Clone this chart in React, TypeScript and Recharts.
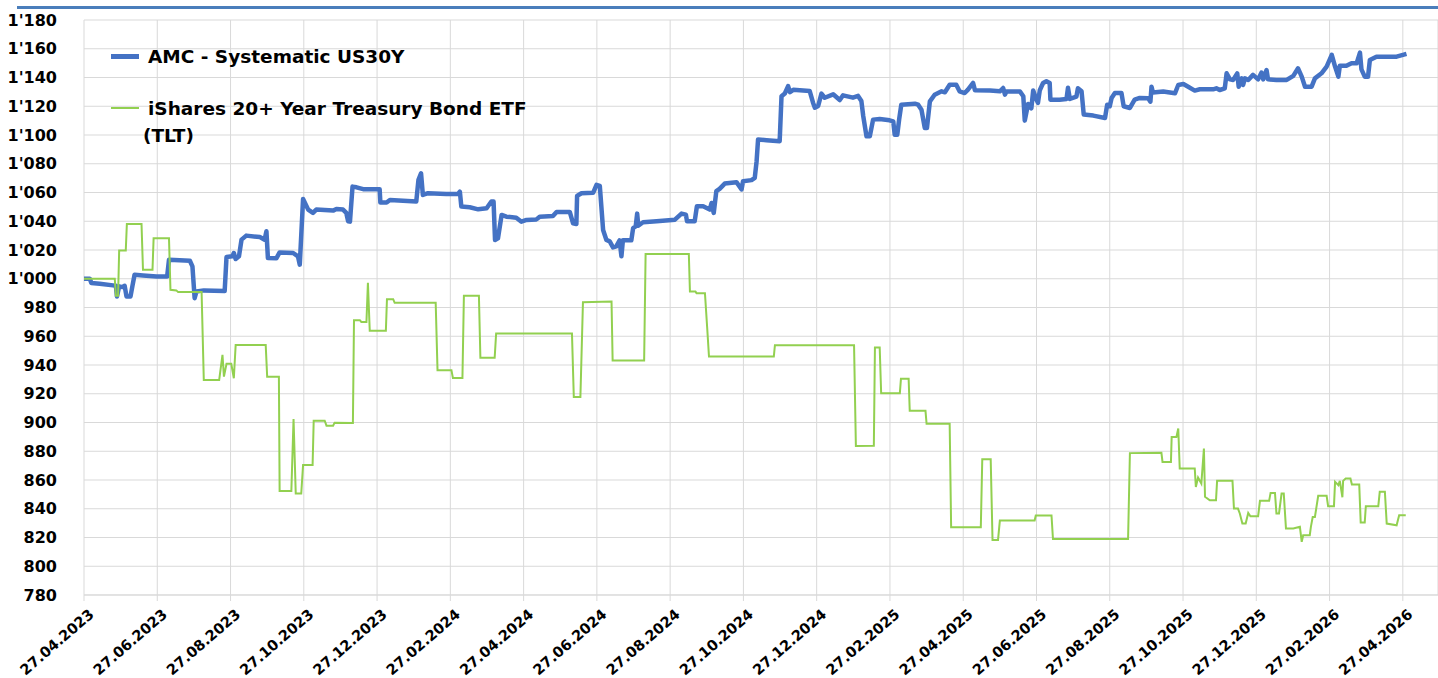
import { LineChart, Line, XAxis, YAxis, CartesianGrid } from 'recharts'

// x = months since 27.04.2023, one tick every 2 months
const X_LABELS = [
  '27.04.2023', '27.06.2023', '27.08.2023', '27.10.2023', '27.12.2023', '27.02.2024',
  '27.04.2024', '27.06.2024', '27.08.2024', '27.10.2024', '27.12.2024', '27.02.2025',
  '27.04.2025', '27.06.2025', '27.08.2025', '27.10.2025', '27.12.2025', '27.02.2026',
  '27.04.2026',
]
const X_TICKS = X_LABELS.map((_, i) => i * 2)
const Y_TICKS = [780, 800, 820, 840, 860, 880, 900, 920, 940, 960, 980, 1000, 1020, 1040, 1060, 1080, 1100, 1120, 1140, 1160, 1180]

const AMC_NAME = 'AMC - Systematic US30Y'
const TLT_NAME = 'iShares 20+ Year Treasury Bond ETF (TLT)'
const AMC_COLOR = '#4472C4'
const TLT_COLOR = '#92D050'

const AMC_T = [
  0, 0.16, 0.2, 0.43, 0.79, 0.87, 0.9, 0.96, 1.05, 1.11, 1.16, 1.27, 1.32, 1.38, 1.61, 1.98, 2.27, 2.32, 2.61, 2.89,
  2.96, 3.02, 3.07, 3.27, 3.84, 3.89, 4.05, 4.09, 4.14, 4.23, 4.3, 4.43, 4.8, 4.93, 4.98, 5.02, 5.25, 5.34, 5.71, 5.84,
  5.89, 5.98, 6.12, 6.25, 6.34, 6.8, 6.89, 7.07, 7.16, 7.21, 7.26, 7.33, 7.44, 7.62, 8.07, 8.09, 8.26, 8.35, 9.07, 9.13,
  9.2, 9.25, 9.39, 9.89, 10.21, 10.26, 10.3, 10.53, 10.76, 10.99, 11.12, 11.18, 11.22, 11.3, 11.4, 11.53, 11.8, 11.94, 12.08, 12.35,
  12.44, 12.8, 12.9, 13.26, 13.35, 13.44, 13.46, 13.58, 13.9, 13.99, 14.08, 14.17, 14.26, 14.35, 14.44, 14.53, 14.62, 14.67, 14.71, 14.94,
  14.99, 15.06, 15.1, 15.13, 15.26, 15.63, 16.13, 16.31, 16.43, 16.46, 16.67, 16.73, 16.9, 17.08, 17.13, 17.19, 17.26, 17.35, 17.49, 17.81,
  17.95, 17.99, 18.22, 18.31, 18.36, 18.4, 18.63, 18.99, 19.04, 19.13, 19.22, 19.27, 19.36, 19.81, 19.9, 19.95, 20.04, 20.13, 20.22, 20.45,
  20.63, 20.72, 20.99, 21.13, 21.22, 21.27, 21.36, 21.45, 21.54, 21.72, 21.99, 22.09, 22.13, 22.2, 22.25, 22.31, 22.68, 22.77, 22.86, 22.95,
  23.01, 23.09, 23.22, 23.41, 23.5, 23.63, 23.81, 23.9, 24.04, 24.13, 24.27, 24.32, 24.73, 25.0, 25.09, 25.14, 25.18, 25.55, 25.64, 25.68,
  25.77, 25.86, 25.91, 25.98, 26.04, 26.09, 26.18, 26.27, 26.36, 26.38, 26.63, 26.82, 26.86, 26.91, 27.09, 27.13, 27.23, 27.29, 27.55, 27.87,
  27.93, 28.0, 28.05, 28.14, 28.32, 28.38, 28.55, 28.68, 28.82, 29.05, 29.11, 29.14, 29.18, 29.46, 29.78, 29.87, 30.01, 30.14, 30.32, 30.46,
  30.82, 30.91, 31.0, 31.14, 31.19, 31.28, 31.37, 31.48, 31.52, 31.6, 31.64, 31.69, 31.78, 31.91, 32.05, 32.14, 32.19, 32.28, 32.32, 32.55,
  32.83, 33.01, 33.14, 33.24, 33.33, 33.51, 33.6, 33.78, 33.92, 34.06, 34.15, 34.24, 34.28, 34.46, 34.6, 34.74, 34.83, 34.87, 34.96, 35.05,
  35.1, 35.28, 35.83, 36.1,
]
const AMC_V = [
  1000, 1000, 997, 996.5, 995.4, 995.2, 987.7, 994.7, 994.2, 995.1, 987.7, 987.7, 994.7, 1002.8, 1002.3, 1001.6, 1001.6, 1013.2, 1012.8, 1012.5,
  1008.6, 986.5, 991.2, 991.9, 991.4, 1015.1, 1015.6, 1017.9, 1013.7, 1015.6, 1027.2, 1030, 1029, 1027.2, 1033, 1014.4, 1014.2, 1018.3, 1017.9, 1015.6,
  1009.8, 1055.5, 1048.1, 1045.8, 1048.1, 1047.4, 1048.5, 1048.1, 1045.8, 1040, 1039.7, 1064.1, 1063.6, 1062.3, 1062.3, 1053, 1053, 1054.8, 1053.7, 1068.9,
  1073.4, 1058.3, 1059.5, 1059, 1059, 1060.6, 1050.2, 1049.7, 1048.3, 1049, 1053.7, 1053.7, 1027, 1028.1, 1044.4, 1043.2, 1042.5, 1039.7, 1040.9, 1041.3,
  1043.2, 1043.6, 1046.5, 1046.5, 1038.6, 1038.1, 1057.6, 1059.5, 1059.9, 1065.3, 1064.6, 1033.9, 1027, 1026, 1021.8, 1022.5, 1026.7, 1015.6, 1026.7, 1026.7,
  1035.3, 1036.5, 1045.3, 1036.9, 1039.3, 1040, 1041.1, 1045.3, 1044.6, 1040, 1040, 1050.4, 1050.4, 1048.1, 1052.7, 1045.8, 1060.9, 1062.5, 1066.2, 1067.2,
  1062.1, 1067.9, 1068.6, 1070.2, 1081.8, 1096.9, 1096.4, 1095.7, 1127, 1128.9, 1134, 1129.8, 1131.4, 1130.6, 1122.5, 1119, 1120.2, 1128.8, 1125.9, 1128.3,
  1124.3, 1127.6, 1126, 1127.2, 1123.7, 1113.3, 1099.1, 1099.1, 1110.7, 1111.1, 1110.2, 1109.5, 1100.2, 1100.2, 1110.7, 1121.1, 1121.8, 1121.1, 1117.6, 1104.9,
  1104.9, 1123.4, 1128, 1130.4, 1129.7, 1135, 1135, 1130.4, 1129.2, 1131.6, 1136.2, 1131.1, 1130.9, 1130.4, 1132.7, 1128.1, 1130.2, 1130.2, 1127, 1110,
  1121.6, 1118.6, 1130.9, 1125.7, 1122.3, 1131.1, 1136.2, 1137.4, 1136.2, 1124.6, 1124.6, 1125.1, 1132.8, 1125.1, 1126.7, 1132.5, 1130.4, 1114.2, 1113.5, 1111.8,
  1121.1, 1120, 1125.7, 1129.2, 1129.2, 1120, 1118.8, 1124.6, 1125.8, 1125.5, 1123.2, 1133.6, 1129.5, 1130.2, 1129, 1134.8, 1135.5, 1133.6, 1130.9, 1131.8,
  1131.8, 1132.5, 1131.3, 1132.5, 1142.9, 1138.7, 1138.3, 1142.9, 1133.6, 1139.4, 1134.8, 1139.4, 1138.3, 1141.8, 1138.7, 1143.4, 1138.7, 1145.2, 1138.7, 1138.3,
  1138.3, 1141.1, 1146.4, 1140.6, 1133.6, 1133.6, 1139.4, 1142.9, 1147.6, 1155.7, 1147.6, 1140.6, 1148.1, 1148.1, 1149.9, 1149.9, 1157.3, 1145.7, 1140.6, 1140.6,
  1152.2, 1154.5, 1154.5, 1156.4,
]

const TLT_T = [
  0, 0.84, 0.87, 0.93, 0.96, 1.14, 1.17, 1.57, 1.61, 1.87, 1.9, 2.32, 2.36, 2.52, 2.57, 3.21, 3.27, 3.69, 3.78, 3.82,
  3.89, 4.02, 4.09, 4.14, 4.96, 5.0, 5.32, 5.34, 5.66, 5.72, 5.78, 5.93, 5.98, 6.24, 6.27, 6.57, 6.62, 6.8, 6.84, 7.34,
  7.37, 7.53, 7.57, 7.71, 7.75, 7.8, 8.24, 8.27, 8.44, 8.48, 9.6, 9.65, 10.03, 10.07, 10.33, 10.37, 10.78, 10.82, 11.21, 11.25,
  13.32, 13.37, 13.55, 13.62, 14.4, 14.43, 15.29, 15.33, 16.51, 16.54, 16.69, 16.72, 16.95, 17.01, 17.06, 18.83, 18.86, 21.02, 21.07, 21.56,
  21.59, 21.72, 21.76, 22.27, 22.3, 22.51, 22.54, 22.97, 23.0, 23.63, 23.67, 24.48, 24.52, 24.75, 24.8, 24.95, 25.0, 25.95, 25.98, 26.41,
  26.45, 28.5, 28.55, 29.41, 29.44, 29.67, 29.69, 29.82, 29.87, 29.91, 30.32, 30.35, 30.41, 30.5, 30.57, 30.6, 30.73, 30.9, 30.93, 31.35,
  31.39, 31.5, 31.55, 31.62, 31.71, 31.78, 31.84, 32.05, 32.1, 32.35, 32.39, 32.51, 32.55, 32.62, 32.69, 32.75, 32.81, 33.01, 33.19, 33.24,
  33.28, 33.46, 33.49, 33.54, 33.6, 33.69, 33.92, 33.96, 34.12, 34.15, 34.24, 34.28, 34.35, 34.37, 34.44, 34.57, 34.61, 34.81, 34.85, 34.96,
  34.99, 35.33, 35.37, 35.51, 35.56, 35.83, 35.9, 36.08,
]
const TLT_V = [
  1000, 1000, 988.2, 988.2, 1019.7, 1019.7, 1038.1, 1038.1, 1006.3, 1006.3, 1028.1, 1028.1, 992.3, 991.9, 990.7, 990.7, 929.6, 929.6, 947, 931.9,
  940.8, 940.8, 930.8, 954, 954, 931.9, 931.9, 852.3, 852.3, 902.4, 850.6, 850.6, 870.4, 870.4, 901.3, 901.3, 897.8, 897.8, 899.9, 899.7,
  971.2, 971.2, 970, 970, 997.2, 963.8, 963.8, 985.8, 985.8, 983.3, 983.3, 936.4, 936.4, 931, 931, 988.2, 988.2, 945, 945, 961.9,
  961.9, 917.8, 917.8, 983.7, 984.2, 943.1, 943.1, 1017.2, 1017.2, 991.2, 991.2, 990, 990, 966.3, 945.9, 945.9, 953.8, 953.8, 883.6, 883.8,
  952.2, 952.2, 920.4, 920.4, 930.4, 930.4, 908.1, 908.1, 899.1, 899.1, 827.1, 827.1, 874.5, 874.5, 818.3, 818.3, 831.8, 831.8, 835.3, 835.3,
  819, 819, 878.7, 878.9, 872.6, 872.6, 890, 890, 895.8, 868, 868, 855.2, 861.7, 857.5, 881.9, 848.3, 845.9, 845.9, 859.4, 859.4,
  840.1, 840.1, 836.7, 829.7, 829.7, 837.1, 834.8, 834.8, 845.5, 845.5, 851, 851, 836.7, 836.7, 850.6, 850.6, 826.2, 826.2, 827.4, 817,
  821.6, 821.6, 827.4, 834.3, 834.3, 849, 849, 841.8, 841.8, 858.7, 856.4, 859.4, 848, 859.4, 861.1, 861.1, 856.8, 856.8, 830.4, 830.4,
  841.8, 841.8, 851.8, 851.8, 829.7, 828.5, 835.5, 835.5,
]

const amcData = AMC_T.map((t, i) => ({ t, v: AMC_V[i] }))
const tltData = TLT_T.map((t, i) => ({ t, v: TLT_V[i] }))

const FONT = '"DejaVu Sans", Verdana, sans-serif'
const GRID = '#d9d9d9'

const fmtY = (n: number) =>
  n >= 1000 ? `${Math.floor(n / 1000)}'${String(n % 1000).padStart(3, '0')}` : String(n)

function DateTick({ x, y, payload }: any) {
  const label = X_LABELS[Math.round(payload.value / 2)] ?? ''
  return (
    <g transform={`translate(${x + 4},${y + 5})`}>
      <text
        textAnchor="end"
        transform="rotate(-41)"
        dy="0.71em"
        fontFamily={FONT}
        fontWeight={700}
        fontSize={14.5}
        fill="#000"
      >
        {label}
      </text>
    </g>
  )
}

function LegendRow({ color, thick, label }: { color: string; thick: number; label: string }) {
  return (
    <div style={{ display: 'flex', alignItems: 'flex-start', marginBottom: 24.5 }}>
      <span style={{ width: 28, height: thick, background: color, marginTop: 13.5 - thick / 2, flex: 'none' }} />
      <span style={{ width: 392, marginLeft: 4, textIndent: 5, lineHeight: '27px' }}>{label}</span>
    </div>
  )
}

export default function App() {
  return (
    <div style={{ position: 'absolute', left: 0, top: 0, width: 1438, height: 678, background: '#fff' }}>
      <div style={{ position: 'absolute', left: 17, top: 6, width: 1421, height: 2.5, background: '#4a7ebb' }} />
      <LineChart width={1438} height={678} data={amcData} margin={{ top: 20, right: 0, bottom: 0, left: 0 }}>
        <CartesianGrid stroke={GRID} strokeWidth={1} />
        <XAxis
          type="number"
          dataKey="t"
          domain={[0, 36.96]}
          ticks={X_TICKS}
          interval={0}
          height={83}
          tickSize={6}
          tickMargin={2}
          axisLine={{ stroke: GRID }}
          tickLine={{ stroke: GRID }}
          tick={<DateTick />}
        />
        <YAxis
          type="number"
          domain={[780, 1180]}
          ticks={Y_TICKS}
          interval={0}
          width={84}
          tickSize={0}
          tickMargin={27}
          axisLine={false}
          tickLine={false}
          tickFormatter={fmtY}
          tick={{ fontFamily: FONT, fontWeight: 700, fontSize: 16, fill: '#000' }}
        />
        <Line
          data={amcData}
          dataKey="v"
          name={AMC_NAME}
          type="linear"
          stroke={AMC_COLOR}
          strokeWidth={4.5}
          strokeLinejoin="round"
          dot={false}
          activeDot={false}
          isAnimationActive={false}
        />
        <Line
          data={tltData}
          dataKey="v"
          name={TLT_NAME}
          type="linear"
          stroke={TLT_COLOR}
          strokeWidth={2}
          dot={false}
          activeDot={false}
          isAnimationActive={false}
        />
      </LineChart>
      <div
        style={{
          position: 'absolute', left: 111, top: 43, fontFamily: FONT, fontWeight: 700,
          fontSize: 18.5, color: '#000',
        }}
      >
        <LegendRow color={AMC_COLOR} thick={4.5} label={AMC_NAME} />
        <LegendRow color={TLT_COLOR} thick={2} label={TLT_NAME} />
      </div>
    </div>
  )
}
